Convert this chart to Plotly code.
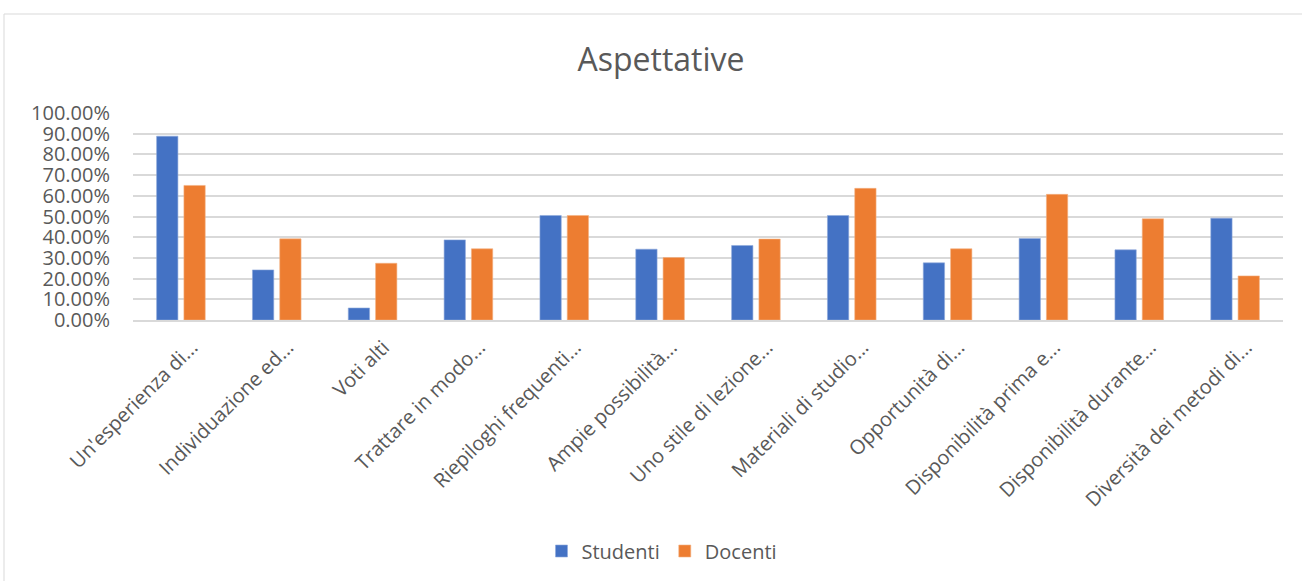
import plotly.graph_objects as go

categorie = [
    "Un'esperienza di...",
    "Individuazione ed...",
    "Voti alti",
    "Trattare in modo...",
    "Riepiloghi frequenti...",
    "Ampie possibilità...",
    "Uno stile di lezione...",
    "Materiali di studio...",
    "Opportunità di...",
    "Disponibilità prima e...",
    "Disponibilità durante...",
    "Diversità dei metodi di...",
]
studenti = [0.888, 0.242, 0.058, 0.387, 0.505, 0.342, 0.360, 0.505, 0.276, 0.394, 0.339, 0.492]
docenti = [0.650, 0.392, 0.274, 0.344, 0.505, 0.302, 0.391, 0.636, 0.344, 0.607, 0.489, 0.213]
y_ticks = [0, 0.1, 0.2, 0.3, 0.4, 0.5, 0.6, 0.7, 0.8, 0.9, 1.0]

W, H = 1302, 581
L, R, T, B = 133, 19, 113, 261
FONT = "Open Sans"
GREY = "#595959"

fig = go.Figure()
fig.add_trace(go.Bar(name="Studenti", x=categorie, y=studenti,
                     marker=dict(color="#4472C4", line=dict(color="#8faadc", width=0.6))))
fig.add_trace(go.Bar(name="Docenti", x=categorie, y=docenti,
                     marker=dict(color="#ED7D31", line=dict(color="#f4b183", width=0.6))))

plot_h = H - T - B
plot_w = W - L - R

# chart frame border
fig.add_shape(type="rect", xref="paper", yref="paper",
              x0=(4 - L) / plot_w, x1=(W + 5 - L) / plot_w,
              y0=(H - B - (H + 5)) / plot_h, y1=(H - B - 14) / plot_h,
              line=dict(color="#d9d9d9", width=1), fillcolor="rgba(0,0,0,0)", layer="below")

fig.update_layout(
    width=W, height=H,
    margin=dict(l=L, r=R, t=T, b=B, autoexpand=False),
    paper_bgcolor="white", plot_bgcolor="white",
    barmode="group", bargap=0.43, bargroupgap=0.22,
    title=dict(text="Aspettative", x=661 / W, xanchor="center", y=1 - 60 / H, yanchor="middle",
               font=dict(family=FONT, size=32, color=GREY)),
    font=dict(family=FONT, color=GREY),
    xaxis=dict(tickangle=-45, tickfont=dict(size=20, color=GREY), showgrid=False,
               showline=True, linecolor="#d9d9d9", linewidth=1.5, ticks="", ticklen=0,
               ticklabelshift=11, ticklabelstandoff=6),
    yaxis=dict(range=[0, 1.0], tickvals=y_ticks, tickformat=".2%",
               tickfont=dict(size=20, color=GREY), showgrid=True, gridcolor="#d9d9d9",
               gridwidth=1.5, zeroline=False, ticks="", ticklabelstandoff=22),
    legend=dict(orientation="h", x=0.5 + (662 - (L + plot_w / 2)) / plot_w, xanchor="center",
                y=(H - B - 551) / plot_h, yanchor="middle",
                font=dict(size=20, color=GREY), itemwidth=30, traceorder="normal"),
)

fig.write_html("out.html")
